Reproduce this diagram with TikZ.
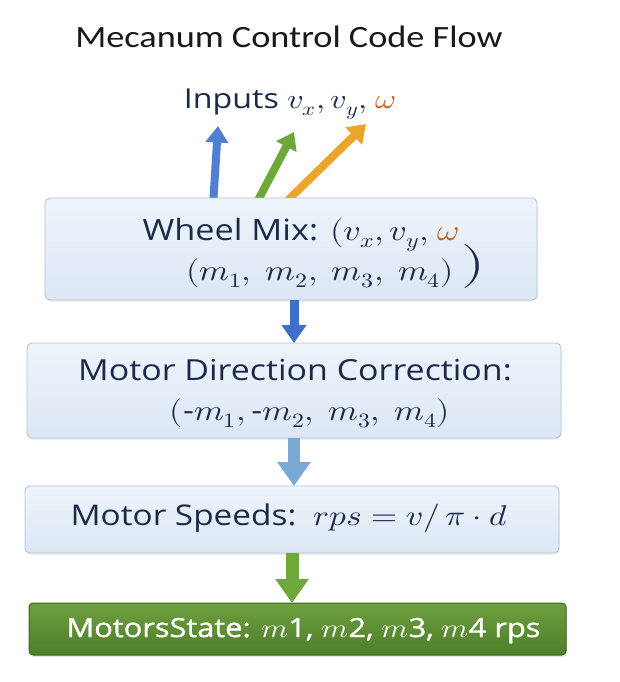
\documentclass[tikz,border=0pt]{standalone}
\usepackage{fontspec}
\usepackage{unicode-math}
\setmainfont{Open Sans}
\newfontfamily\titlefont{Carlito}
\newfontfamily\semifont{Open Sans}[FakeBold=1.2]
\usetikzlibrary{arrows.meta,shadows}
\definecolor{navy}{HTML}{1C2A4A}
\definecolor{omegac}{HTML}{C8621A}
\definecolor{boxborder}{HTML}{B3C5DC}
\definecolor{boxtop}{HTML}{EEF4FB}
\definecolor{boxbot}{HTML}{DCE7F4}
\definecolor{blueA}{HTML}{4F80D2}
\definecolor{blueB}{HTML}{3F6FC6}
\definecolor{blueC}{HTML}{7AA9D6}
\definecolor{greenA}{HTML}{6DA83A}
\definecolor{orangeA}{HTML}{EBA52A}
\definecolor{greentop}{HTML}{6E9F3F}
\definecolor{greenbot}{HTML}{4D7E2A}
\definecolor{greenborder}{HTML}{3C6822}
\newcommand{\sx}[1]{\scalebox{1.17}[1]{#1}}
\begin{document}
\begin{tikzpicture}[x=1pt,y=-1pt,
  box/.style={draw=boxborder, line width=0.9pt, rounded corners=5pt, top color=boxtop, bottom color=boxbot,
    inner sep=0pt, outer sep=0pt, drop shadow={opacity=0.12, shadow xshift=1pt, shadow yshift=-2pt}},
  gbox/.style={draw=greenborder, line width=1pt, rounded corners=4pt, top color=greentop, bottom color=greenbot,
    inner sep=0pt, outer sep=0pt, drop shadow={opacity=0.2, shadow xshift=1pt, shadow yshift=-2pt}},
  lbl/.style={anchor=base, inner sep=0pt, text=navy, font=\fontsize{29}{32}\selectfont},
  fat/.style={-{Triangle[width=#1, length=0.75*#1]}},
]
\useasboundingbox (0,0) rectangle (620,682);
\fill[white] (0,0) rectangle (620,682);

% title and inputs
\node[anchor=base, inner sep=0pt, text=black!90, font=\titlefont\fontsize{31}{34}\selectfont] (title) at (289,48) {\sx{Mecanum Control Code Flow}};
\node[lbl, font=\fontsize{27.5}{30}\selectfont] (inputs) at (290,109) {\sx{Inputs $v_x, v_y,$ \textcolor{omegac}{$\omega$}}};

% input arrows (start under box 1)
\coordinate (s1) at (213,206);
\coordinate (t1) at (218,126);
\coordinate (s2) at (255,206);
\coordinate (t2) at (294,132);
\coordinate (s3) at (282,206);
\coordinate (t3) at (366,124);
\draw[blueA, line width=8pt, fat=22pt] (s1) -- (t1);
\draw[greenA, line width=8pt, fat=22pt] (s2) -- (t2);
\draw[orangeA, line width=8pt, fat=23pt] (s3) -- (t3);

% boxes
\node[box, minimum width=492pt, minimum height=102pt] (b1) at (291,249) {};
\node[box, minimum width=534pt, minimum height=95pt] (b2) at (294,390.5) {};
\node[box, minimum width=534pt, minimum height=67pt] (b3) at (292,519.5) {};
\node[gbox, minimum width=537pt, minimum height=52pt] (b4) at (297.5,629) {};

% connectors
\draw[blueB, line width=9pt, fat=24pt] (b1.south -| b2.north) -- (b2.north);
\draw[blueC, line width=12pt, fat=32pt] (b2.south) -- (b2.south |- b3.north);
\draw[greenA, line width=13pt, fat=32pt] (b3.south) -- (b3.south |- b4.north);

% box texts
\node[lbl, font=\fontsize{29.3}{33}\selectfont] (w1) at (301,240) {\sx{Wheel Mix: $(v_x, v_y,$ \textcolor{omegac}{$\omega$}}};
\node[lbl] (w2) at (320,280) {\sx{$(m_1,\ m_2,\ m_3,\ m_4)$}};
\node[inner sep=0pt, text=navy, font=\fontsize{44}{46}\selectfont] (wp) at (473,266) {\scalebox{1.4}[1]{$)$}};

\node[lbl] (d1) at (295,380) {\sx{Motor Direction Correction:}};
\node[lbl] (d2) at (310,420) {\sx{$(\mbox{-}m_1,\mbox{-}m_2,\ m_3,\ m_4)$}};

\node[lbl, font=\fontsize{28.5}{32}\selectfont] (sp) at (289,525) {\sx{Motor Speeds:\ \ $rps = v/\,\pi\cdot d$}};

\node[lbl, text=white, font=\semifont\fontsize{26.3}{32}\selectfont] (ms) at (303.5,637) {\sx{MotorsState: $m$1, $m$2, $m$3, $m$4 rps}};
\end{tikzpicture}
\end{document}
